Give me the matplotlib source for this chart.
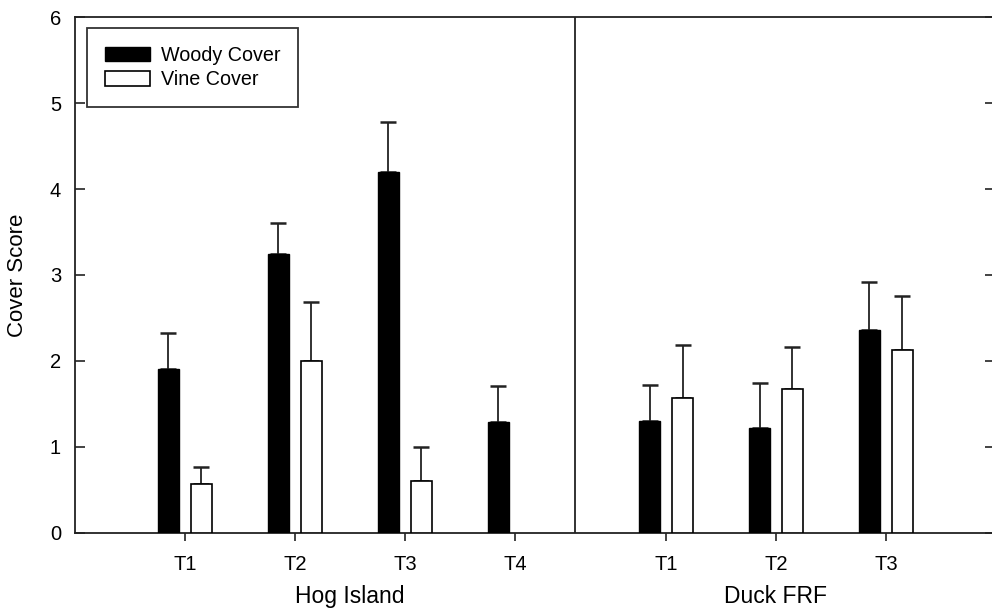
import matplotlib
matplotlib.use("Agg")
import matplotlib.pyplot as plt
import numpy as np

plt.rcParams['font.family'] = ['Liberation Sans', 'DejaVu Sans']

# Sites and treatment labels
sites = ["Hog Island", "Duck FRF"]
hog_treatments = ["T1", "T2", "T3", "T4"]
duck_treatments = ["T1", "T2", "T3"]

# Mean cover scores and standard errors (upper bars only)
hog_woody = [1.91, 3.25, 4.20, 1.29]
hog_woody_err = [0.42, 0.36, 0.58, 0.42]
hog_vine = [0.57, 2.00, 0.60, np.nan]
hog_vine_err = [0.20, 0.68, 0.40, np.nan]

duck_woody = [1.30, 1.22, 2.36]
duck_woody_err = [0.42, 0.52, 0.56]
duck_vine = [1.57, 1.67, 2.13]
duck_vine_err = [0.62, 0.49, 0.62]

series_names = ["Woody Cover", "Vine Cover"]
y_ticks = [0, 1, 2, 3, 4, 5, 6]

# Layout of the category axis
duck_offset = 4.373
divider_x = 4.545
bar_w = 0.19
shift = 0.15
line_c = "#222222"

hog_x = np.arange(1, len(hog_treatments) + 1)
duck_x = np.arange(1, len(duck_treatments) + 1) + duck_offset
xs = np.concatenate([hog_x, duck_x])
woody = np.array(hog_woody + duck_woody)
woody_err = np.array(hog_woody_err + duck_woody_err)
vine = np.array(hog_vine + duck_vine)
vine_err = np.array(hog_vine_err + duck_vine_err)

fig = plt.figure(figsize=(9.92, 6.15), dpi=100)
W, H = 992, 615
ax = fig.add_axes([75 / W, 1 - 532.7 / H, (995 - 75) / W, (532.7 - 17.3) / H])

err_kw = dict(ecolor=line_c, elinewidth=1.3, capsize=6, capthick=1.8)
ax.bar(xs - shift, woody, bar_w, color="black", edgecolor="black",
       linewidth=1.0, label=series_names[0], zorder=3)
ax.errorbar(xs - shift, woody, yerr=[np.zeros_like(woody), woody_err],
            fmt="none", zorder=2, **err_kw)
ax.bar(xs + shift, vine, bar_w, color="white", edgecolor="black",
       linewidth=1.2, label=series_names[1], zorder=3)
ax.errorbar(xs + shift, vine, yerr=[np.zeros_like(vine), vine_err],
            fmt="none", zorder=2, **err_kw)

ax.axvline(divider_x, color=line_c, linewidth=1.3, zorder=1)

ax.set_xlim(0, 8.364)
ax.set_ylim(0, 6)
ax.set_yticks(y_ticks)
ax.set_xticks(xs)
ax.set_xticklabels(hog_treatments + duck_treatments)

for side in ["left", "right", "top", "bottom"]:
    ax.spines[side].set_color(line_c)
    ax.spines[side].set_linewidth(1.3)

ax.tick_params(axis="y", direction="in", length=7, width=1.2, color=line_c,
               labelsize=14.5, pad=10, right=True)
ax.tick_params(axis="x", direction="out", length=6, width=1.2, color=line_c,
               labelsize=14.5, pad=10)

ax.set_ylabel("Cover Score", fontsize=16, labelpad=16)

# Site names below the treatment labels
for name, pos in zip(sites, [hog_x.mean(), duck_x.mean()]):
    ax.text(pos, -0.74, name, ha="center", va="center", fontsize=16.5,
            transform=ax.transData)

leg = ax.legend(loc="upper left", bbox_to_anchor=(87 / W, 1 - 28 / H),
                bbox_transform=fig.transFigure, frameon=True, fancybox=False,
                fontsize=14.2, handlelength=2.3, handleheight=0.75,
                borderpad=0.9, labelspacing=0.28, handletextpad=0.55,
                borderaxespad=0)
leg.get_frame().set_edgecolor("black")
leg.get_frame().set_linewidth(1.3)

fig.savefig("out.png", dpi=100)
